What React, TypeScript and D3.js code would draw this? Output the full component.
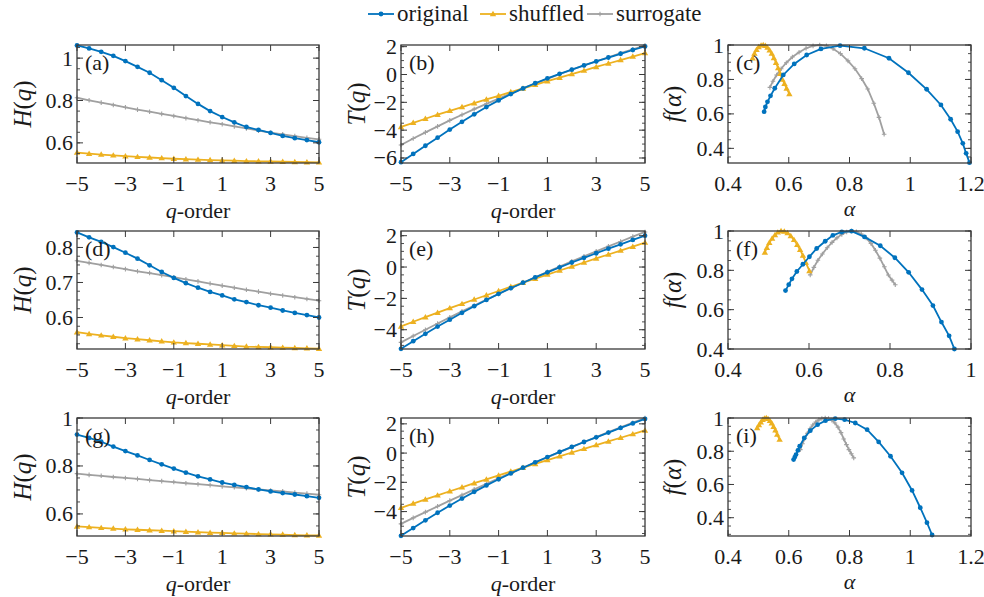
import React from 'react';
import * as d3 from 'd3';

// ---------- data ----------
const qOrder = [-5, -4.5, -4, -3.5, -3, -2.5, -2, -1.5, -1, -0.5, 0, 0.5, 1, 1.5, 2, 2.5, 3, 3.5, 4, 4.5, 5];
const qTickLabels = [-5, -3, -1, 1, 3, 5];
const seriesNames = ['original', 'shuffled', 'surrogate'];

// row 1
const hA_orig = [1.06, 1.046, 1.03, 1.011, 0.986, 0.959, 0.931, 0.896, 0.86, 0.821, 0.784, 0.75, 0.722, 0.697, 0.675, 0.661, 0.647, 0.633, 0.622, 0.613, 0.603];
const hA_shuf = [0.554, 0.549, 0.545, 0.541, 0.537, 0.534, 0.531, 0.528, 0.525, 0.523, 0.521, 0.519, 0.517, 0.516, 0.514, 0.513, 0.512, 0.511, 0.51, 0.509, 0.508];
const hA_surr = [0.813, 0.801, 0.79, 0.779, 0.768, 0.757, 0.747, 0.737, 0.727, 0.717, 0.707, 0.697, 0.688, 0.678, 0.668, 0.658, 0.648, 0.64, 0.632, 0.624, 0.617];
const tB_orig = [-6.3, -5.71, -5.12, -4.54, -3.96, -3.4, -2.86, -2.34, -1.86, -1.41, -1, -0.63, -0.28, 0.05, 0.35, 0.65, 0.94, 1.22, 1.49, 1.76, 2.02];
const tB_shuf = [-3.77, -3.47, -3.18, -2.89, -2.61, -2.34, -2.06, -1.79, -1.53, -1.26, -1, -0.74, -0.48, -0.23, 0.03, 0.28, 0.54, 0.79, 1.04, 1.29, 1.54];
const tB_surr = [-5.07, -4.6, -4.16, -3.73, -3.3, -2.89, -2.49, -2.11, -1.73, -1.36, -1, -0.65, -0.31, 0.02, 0.34, 0.65, 0.94, 1.24, 1.53, 1.81, 2.09];
const aC_orig = [1.195, 1.184, 1.173, 1.156, 1.133, 1.101, 1.054, 0.994, 0.93, 0.849, 0.769, 0.706, 0.659, 0.618, 0.582, 0.554, 0.54, 0.53, 0.523, 0.519];
const fC_orig = [0.317, 0.371, 0.429, 0.497, 0.569, 0.652, 0.743, 0.839, 0.923, 0.981, 0.996, 0.977, 0.942, 0.89, 0.826, 0.749, 0.705, 0.67, 0.64, 0.613];
const aC_shuf = [0.602, 0.593, 0.586, 0.579, 0.572, 0.565, 0.558, 0.551, 0.544, 0.537, 0.53, 0.523, 0.516, 0.509, 0.501, 0.494, 0.487, 0.481];
const fC_shuf = [0.716, 0.748, 0.775, 0.8, 0.833, 0.866, 0.897, 0.925, 0.95, 0.97, 0.985, 0.996, 1.0, 0.998, 0.988, 0.972, 0.95, 0.923];
const aC_surr = [0.914, 0.897, 0.88, 0.86, 0.84, 0.818, 0.795, 0.77, 0.746, 0.724, 0.702, 0.68, 0.657, 0.634, 0.612, 0.592, 0.575, 0.56, 0.548, 0.538];
const fC_surr = [0.482, 0.58, 0.662, 0.745, 0.805, 0.862, 0.908, 0.95, 0.978, 0.995, 1.0, 0.995, 0.981, 0.958, 0.93, 0.897, 0.862, 0.826, 0.79, 0.754];

// row 2
const hD_orig = [0.843, 0.829, 0.816, 0.801, 0.785, 0.768, 0.749, 0.73, 0.713, 0.698, 0.685, 0.673, 0.663, 0.652, 0.644, 0.635, 0.628, 0.62, 0.613, 0.607, 0.6];
const hD_shuf = [0.558, 0.553, 0.549, 0.545, 0.541, 0.538, 0.535, 0.532, 0.529, 0.527, 0.525, 0.523, 0.521, 0.519, 0.517, 0.516, 0.515, 0.514, 0.513, 0.512, 0.511];
const hD_surr = [0.762, 0.756, 0.75, 0.744, 0.738, 0.732, 0.727, 0.721, 0.715, 0.709, 0.703, 0.697, 0.691, 0.685, 0.679, 0.674, 0.668, 0.663, 0.658, 0.653, 0.648];
const tE_orig = [-5.22, -4.73, -4.26, -3.8, -3.36, -2.92, -2.5, -2.1, -1.71, -1.35, -1, -0.66, -0.34, -0.02, 0.29, 0.59, 0.88, 1.17, 1.45, 1.73, 2.0];
const tE_shuf = [-3.79, -3.49, -3.2, -2.91, -2.62, -2.35, -2.07, -1.8, -1.53, -1.26, -1, -0.74, -0.48, -0.22, 0.03, 0.29, 0.55, 0.8, 1.05, 1.3, 1.56];
const tE_surr = [-4.81, -4.4, -4.0, -3.6, -3.21, -2.83, -2.45, -2.08, -1.72, -1.35, -1, -0.65, -0.31, 0.03, 0.36, 0.69, 1.0, 1.32, 1.63, 1.94, 2.24];
const aF_orig = [0.959, 0.946, 0.927, 0.906, 0.879, 0.846, 0.812, 0.776, 0.737, 0.705, 0.681, 0.659, 0.64, 0.619, 0.601, 0.585, 0.57, 0.558, 0.55, 0.542];
const fF_orig = [0.4, 0.467, 0.537, 0.621, 0.702, 0.79, 0.864, 0.925, 0.97, 0.999, 0.995, 0.978, 0.948, 0.911, 0.869, 0.831, 0.794, 0.757, 0.727, 0.697];
const aF_shuf = [0.601, 0.592, 0.585, 0.578, 0.571, 0.563, 0.555, 0.547, 0.539, 0.531, 0.523, 0.516, 0.509, 0.502, 0.496, 0.491];
const fF_shuf = [0.797, 0.84, 0.875, 0.905, 0.93, 0.955, 0.975, 0.99, 0.998, 1.0, 0.993, 0.98, 0.962, 0.94, 0.915, 0.891];
const aF_surr = [0.813, 0.805, 0.796, 0.786, 0.775, 0.764, 0.753, 0.741, 0.729, 0.717, 0.705, 0.693, 0.681, 0.669, 0.657, 0.645, 0.633, 0.622, 0.612, 0.603];
const fF_surr = [0.727, 0.75, 0.776, 0.818, 0.862, 0.902, 0.937, 0.965, 0.985, 0.996, 1.0, 0.995, 0.983, 0.965, 0.942, 0.915, 0.883, 0.851, 0.815, 0.777];

// row 3
const hG_orig = [0.931, 0.917, 0.901, 0.881, 0.862, 0.844, 0.825, 0.807, 0.789, 0.772, 0.757, 0.744, 0.731, 0.721, 0.712, 0.702, 0.694, 0.687, 0.681, 0.674, 0.667];
const hG_shuf = [0.548, 0.545, 0.542, 0.539, 0.536, 0.534, 0.532, 0.53, 0.528, 0.526, 0.524, 0.522, 0.521, 0.519, 0.518, 0.516, 0.515, 0.514, 0.512, 0.511, 0.51];
const hG_surr = [0.768, 0.763, 0.759, 0.754, 0.75, 0.746, 0.741, 0.737, 0.733, 0.728, 0.724, 0.72, 0.715, 0.711, 0.707, 0.702, 0.698, 0.694, 0.689, 0.685, 0.68];
const tH_orig = [-5.66, -5.13, -4.6, -4.08, -3.59, -3.11, -2.65, -2.21, -1.79, -1.39, -1, -0.63, -0.27, 0.08, 0.42, 0.76, 1.08, 1.4, 1.72, 2.03, 2.34];
const tH_shuf = [-3.74, -3.45, -3.17, -2.89, -2.61, -2.34, -2.06, -1.8, -1.53, -1.26, -1, -0.74, -0.48, -0.22, 0.04, 0.29, 0.55, 0.8, 1.05, 1.3, 1.55];
const tH_surr = [-4.84, -4.43, -4.04, -3.64, -3.25, -2.87, -2.48, -2.11, -1.73, -1.36, -1, -0.64, -0.29, 0.07, 0.41, 0.76, 1.09, 1.43, 1.76, 2.08, 2.4];
const aI_orig = [1.072, 1.055, 1.033, 1.006, 0.973, 0.935, 0.896, 0.858, 0.819, 0.784, 0.753, 0.721, 0.695, 0.671, 0.651, 0.636, 0.63, 0.624, 0.62, 0.616];
const fI_orig = [0.296, 0.37, 0.46, 0.564, 0.67, 0.77, 0.856, 0.93, 0.97, 0.99, 0.996, 0.984, 0.96, 0.924, 0.88, 0.83, 0.805, 0.78, 0.765, 0.75];
const aI_shuf = [0.57, 0.562, 0.556, 0.55, 0.544, 0.538, 0.532, 0.526, 0.52, 0.514, 0.508, 0.502, 0.496];
const fI_shuf = [0.87, 0.9, 0.926, 0.948, 0.968, 0.984, 0.995, 1.0, 0.998, 0.99, 0.975, 0.958, 0.94];
const aI_surr = [0.814, 0.806, 0.798, 0.79, 0.781, 0.772, 0.762, 0.752, 0.742, 0.731, 0.72, 0.709, 0.699, 0.689, 0.679, 0.67, 0.661, 0.653, 0.645, 0.638];
const fI_surr = [0.76, 0.785, 0.81, 0.84, 0.874, 0.912, 0.945, 0.97, 0.987, 0.997, 1.0, 0.997, 0.989, 0.976, 0.958, 0.935, 0.908, 0.878, 0.845, 0.81];

// ---------- style ----------
const COLORS: Record<string, string> = { original: '#0072BD', shuffled: '#EDB120', surrogate: '#A0A0A0' };
const TXT: React.CSSProperties = { fontFamily: '"Liberation Serif"' };
const AXIS = '#3a3a3a';
const FS = 22;
const FS_YLAB = 25;
const INK = '#1a1a1a';

type Ser = { name: string; xs: number[]; ys: number[] };
type PanelDef = {
  label: string;
  kind: 'H' | 'T' | 'F';
  x0: number; x1: number; y0: number; y1: number;
  xDomain: [number, number]; yDomain: [number, number];
  xTicks: number[]; yTicks: number[];
  series: Ser[];
};

const fmt = (v: number) => {
  const s = String(Math.round(v * 100) / 100);
  return s.replace('-', '\u2212');
};

function Marker({ name, x, y }: { name: string; x: number; y: number }) {
  const c = COLORS[name];
  if (name === 'original') return <circle cx={x} cy={y} r={2.4} fill={c} />;
  if (name === 'shuffled') {
    const s = 3.2;
    return <path d={`M${x},${y - s}L${x + s},${y + s * 0.7}L${x - s},${y + s * 0.7}Z`} fill={c} />;
  }
  return <path d={`M${x - 2.3},${y}H${x + 2.3}M${x},${y - 2.3}V${y + 2.3}`} stroke={c} strokeWidth={1.1} />;
}

function Panel({ p }: { p: PanelDef }) {
  const xs = d3.scaleLinear().domain(p.xDomain).range([p.x0, p.x1]);
  const ys = d3.scaleLinear().domain(p.yDomain).range([p.y1, p.y0]);
  const line = d3.line<[number, number]>().x((d) => xs(d[0])).y((d) => ys(d[1]));
  const tl = 6;
  const yStep = p.yTicks[1] - p.yTicks[0];
  const minor: number[] = [];
  for (let v = p.yTicks[0] - yStep; v <= p.yDomain[1] + 1e-9; v += yStep / 4) {
    if (v >= p.yDomain[0] - 1e-9) minor.push(v);
  }
  const midY = (p.y0 + p.y1) / 2;
  const midX = (p.x0 + p.x1) / 2;
  const ylabX = p.kind === 'H' ? p.x0 - 46 : p.kind === 'T' ? p.x0 - 36 : p.x0 - 47;
  return (
    <g>
      {p.series.map((s) => {
        const pts = s.xs.map((x, i) => [x, s.ys[i]] as [number, number]);
        return (
          <g key={s.name}>
            <path d={line(pts) || ''} fill="none" stroke={COLORS[s.name]} strokeWidth={1.8} />
            {pts.map((d, i) => (
              <Marker key={i} name={s.name} x={xs(d[0])} y={ys(d[1])} />
            ))}
          </g>
        );
      })}
      <rect x={p.x0} y={p.y0} width={p.x1 - p.x0} height={p.y1 - p.y0} fill="none" stroke={AXIS} strokeWidth={1.3} />
      {p.xTicks.map((t) => (
        <g key={'x' + t}>
          <line x1={xs(t)} x2={xs(t)} y1={p.y1} y2={p.y1 - tl} stroke={AXIS} strokeWidth={1} />
          <line x1={xs(t)} x2={xs(t)} y1={p.y0} y2={p.y0 + tl} stroke={AXIS} strokeWidth={1} />
          <text x={xs(t)} y={p.y1 + 28} textAnchor="middle" fontSize={FS} fill={INK} style={TXT}>
            {fmt(t)}
          </text>
        </g>
      ))}
      {minor.map((t, i) => (
        <g key={'m' + i}>
          <line x1={p.x0} x2={p.x0 + 3} y1={ys(t)} y2={ys(t)} stroke={AXIS} strokeWidth={0.9} />
          <line x1={p.x1} x2={p.x1 - 3} y1={ys(t)} y2={ys(t)} stroke={AXIS} strokeWidth={0.9} />
        </g>
      ))}
      {p.yTicks.map((t) => (
        <g key={'y' + t}>
          <line x1={p.x0} x2={p.x0 + tl} y1={ys(t)} y2={ys(t)} stroke={AXIS} strokeWidth={1} />
          <line x1={p.x1} x2={p.x1 - tl} y1={ys(t)} y2={ys(t)} stroke={AXIS} strokeWidth={1} />
          <text x={p.x0 - 4} y={ys(t) + 7.5} textAnchor="end" fontSize={FS} fill={INK} style={TXT}>
            {fmt(t)}
          </text>
        </g>
      ))}
      <text x={p.x0 + 8} y={p.y0 + 25} fontSize={FS} fill={INK} style={TXT}>
        {p.label}
      </text>
      {p.kind === 'F' ? (
        <text x={midX} y={p.y1 + 53} textAnchor="middle" fontSize={FS} fill={INK} fontStyle="italic" style={TXT}>
          α
        </text>
      ) : (
        <text x={midX} y={p.y1 + 55} textAnchor="middle" fontSize={FS} fill={INK} style={TXT}>
          <tspan fontStyle="italic">q</tspan>-order
        </text>
      )}
      <text transform={`translate(${ylabX},${midY}) rotate(-90)`} textAnchor="middle" fontSize={FS_YLAB} fill={INK} style={TXT}>
        {p.kind === 'F' ? (
          <>
            <tspan fontStyle="italic">f</tspan>(<tspan fontStyle="italic">α</tspan>)
          </>
        ) : (
          <>
            <tspan fontStyle="italic">{p.kind}</tspan>(<tspan fontStyle="italic">q</tspan>)
          </>
        )}
      </text>
    </g>
  );
}

const COLS: [number, number][] = [[77, 319], [401, 645], [728, 971]];
const ROWS: [number, number][] = [[45, 163], [231, 349], [418, 536]];

const mk = (names: string[], xsArr: number[][], ysArr: number[][]): Ser[] =>
  names.map((n, i) => ({ name: n, xs: xsArr[i], ys: ysArr[i] }));

const order = ['surrogate', 'shuffled', 'original'];

const panels: PanelDef[] = [
  { label: '(a)', kind: 'H', x0: COLS[0][0], x1: COLS[0][1], y0: ROWS[0][0], y1: ROWS[0][1], xDomain: [-5, 5], yDomain: [0.505, 1.062], xTicks: qTickLabels, yTicks: [0.6, 0.8, 1], series: mk(order, [qOrder, qOrder, qOrder], [hA_surr, hA_shuf, hA_orig]) },
  { label: '(b)', kind: 'T', x0: COLS[1][0], x1: COLS[1][1], y0: ROWS[0][0], y1: ROWS[0][1], xDomain: [-5, 5], yDomain: [-6.36, 2.12], xTicks: qTickLabels, yTicks: [-6, -4, -2, 0, 2], series: mk(order, [qOrder, qOrder, qOrder], [tB_surr, tB_shuf, tB_orig]) },
  { label: '(c)', kind: 'F', x0: COLS[2][0], x1: COLS[2][1], y0: ROWS[0][0], y1: ROWS[0][1], xDomain: [0.4, 1.2], yDomain: [0.315, 1.0], xTicks: [0.4, 0.6, 0.8, 1, 1.2], yTicks: [0.4, 0.6, 0.8, 1], series: mk(order, [aC_surr, aC_shuf, aC_orig], [fC_surr, fC_shuf, fC_orig]) },
  { label: '(d)', kind: 'H', x0: COLS[0][0], x1: COLS[0][1], y0: ROWS[1][0], y1: ROWS[1][1], xDomain: [-5, 5], yDomain: [0.51, 0.847], xTicks: qTickLabels, yTicks: [0.6, 0.7, 0.8], series: mk(order, [qOrder, qOrder, qOrder], [hD_surr, hD_shuf, hD_orig]) },
  { label: '(e)', kind: 'T', x0: COLS[1][0], x1: COLS[1][1], y0: ROWS[1][0], y1: ROWS[1][1], xDomain: [-5, 5], yDomain: [-5.23, 2.3], xTicks: qTickLabels, yTicks: [-4, -2, 0, 2], series: mk(order, [qOrder, qOrder, qOrder], [tE_surr, tE_shuf, tE_orig]) },
  { label: '(f)', kind: 'F', x0: COLS[2][0], x1: COLS[2][1], y0: ROWS[1][0], y1: ROWS[1][1], xDomain: [0.4, 1.0], yDomain: [0.4, 1.0], xTicks: [0.4, 0.6, 0.8, 1], yTicks: [0.4, 0.6, 0.8, 1], series: mk(order, [aF_surr, aF_shuf, aF_orig], [fF_surr, fF_shuf, fF_orig]) },
  { label: '(g)', kind: 'H', x0: COLS[0][0], x1: COLS[0][1], y0: ROWS[2][0], y1: ROWS[2][1], xDomain: [-5, 5], yDomain: [0.508, 1.0], xTicks: qTickLabels, yTicks: [0.6, 0.8, 1], series: mk(order, [qOrder, qOrder, qOrder], [hG_surr, hG_shuf, hG_orig]) },
  { label: '(h)', kind: 'T', x0: COLS[1][0], x1: COLS[1][1], y0: ROWS[2][0], y1: ROWS[2][1], xDomain: [-5, 5], yDomain: [-5.67, 2.4], xTicks: qTickLabels, yTicks: [-4, -2, 0, 2], series: mk(order, [qOrder, qOrder, qOrder], [tH_surr, tH_shuf, tH_orig]) },
  { label: '(i)', kind: 'F', x0: COLS[2][0], x1: COLS[2][1], y0: ROWS[2][0], y1: ROWS[2][1], xDomain: [0.4, 1.2], yDomain: [0.29, 1.0], xTicks: [0.4, 0.6, 0.8, 1, 1.2], yTicks: [0.4, 0.6, 0.8, 1], series: mk(order, [aI_surr, aI_shuf, aI_orig], [fI_surr, fI_shuf, fI_orig]) },
];

const legendX = [368, 480, 587];

export default function App() {
  return (
    <svg width={984} height={597} style={{ position: 'absolute', left: 0, top: 0, background: '#fff', overflow: 'visible' }}>
      <rect x={0} y={0} width={984} height={597} fill="#fff" />
      {seriesNames.map((n, i) => (
        <g key={n}>
          <line x1={legendX[i]} x2={legendX[i] + 26} y1={14} y2={14} stroke={COLORS[n]} strokeWidth={1.8} />
          <Marker name={n} x={legendX[i] + 13} y={14} />
          <text x={legendX[i] + 29} y={21} fontSize={23} fill={INK} style={TXT}>
            {n}
          </text>
        </g>
      ))}
      {panels.map((p) => (
        <Panel key={p.label} p={p} />
      ))}
    </svg>
  );
}
